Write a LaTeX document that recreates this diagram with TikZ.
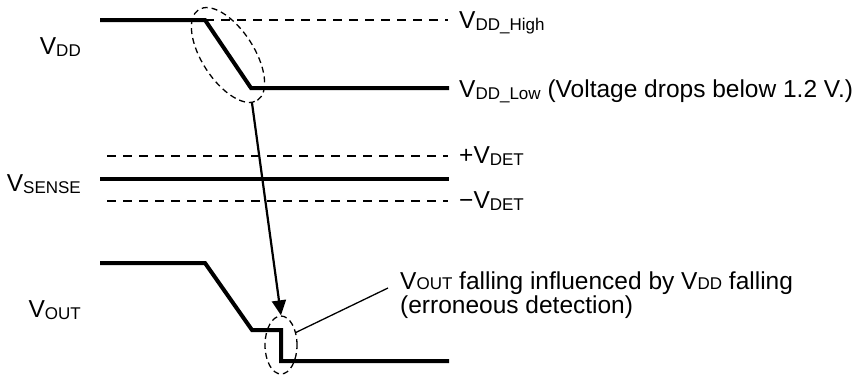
\documentclass[tikz,border=0pt]{standalone}
\usepackage{fontspec}
\setmainfont{Liberation Sans}
\usetikzlibrary{shapes.geometric,arrows.meta}
\newcommand{\sbs}[1]{\raisebox{-2pt}{\fontsize{17}{17}\selectfont #1}}
\newcommand{\sbc}[1]{{\fontsize{17}{17}\selectfont #1}}
\begin{document}
\begin{tikzpicture}[x=1pt,y=-1pt,
  wave/.style={line width=4pt},
  level/.style={line width=1.6pt,dash pattern=on 9pt off 7pt},
  ring/.style={draw,ellipse,line width=1.3pt,dash pattern=on 6pt off 4pt,inner sep=0pt},
  rlabel/.style={anchor=base west,inner sep=0pt,font=\fontsize{24.5}{24.5}\selectfont},
  llabel/.style={anchor=base east,inner sep=0pt,font=\fontsize{24.5}{24.5}\selectfont},
  note/.style={anchor=north west,inner sep=0pt,align=left,font=\fontsize{24.5}{22}\selectfont}]
\useasboundingbox (0,0) rectangle (864,376);
% VDD
\draw[level] (205,20) -- (448,20);
\draw[wave,line join=miter] (100,20) -- (205,20) -- (251,88) -- (449,88);
\node[rlabel] (vddh) at (459,28) {V\sbs{DD\_High}};
\node[rlabel] (vddl) at (459,97) {V\sbs{DD\_Low} (Voltage drops below 1.2 V.)};
\node[llabel] (vdd) at (81,54) {V\sbs{DD}};
\node[ring,minimum width=108pt,minimum height=52pt,rotate=-57] (e1) at (228,55) {};
% VSENSE
\draw[level] (107,156) -- (448,156);
\draw[level] (107,201) -- (448,201);
\draw[wave] (100,179) -- (449,179);
\node[rlabel] (pdet) at (459,163) {+V\sbs{DET}};
\node[rlabel] (mdet) at (459,208) {\char"2212V\sbs{DET}};
\node[llabel] (vsense) at (81,191) {V\sbs{SENSE}};
% VOUT
\draw[wave,line join=miter] (100,263) -- (205,263) -- (252,330) -- (281,330) -- (281,361) -- (449,361);
\node[llabel] (vout) at (81,317) {V\sbs{OUT}};
\node[ring,minimum width=32pt,minimum height=58pt] (e2) at (281,345) {};
% arrow
\coordinate (a0) at (252,103);
\draw[line width=2.2pt,-{Triangle[length=15pt,width=14pt]}] (a0) -- (e2.north);
% callout
\node[note] (call) at (400,272) {V\sbc{OUT} falling influenced by V\sbc{DD} falling\\(erroneous detection)};
\coordinate (c1) at (388,288);
\draw[line width=1.3pt] (e2.40) -- (c1);
\end{tikzpicture}
\end{document}
